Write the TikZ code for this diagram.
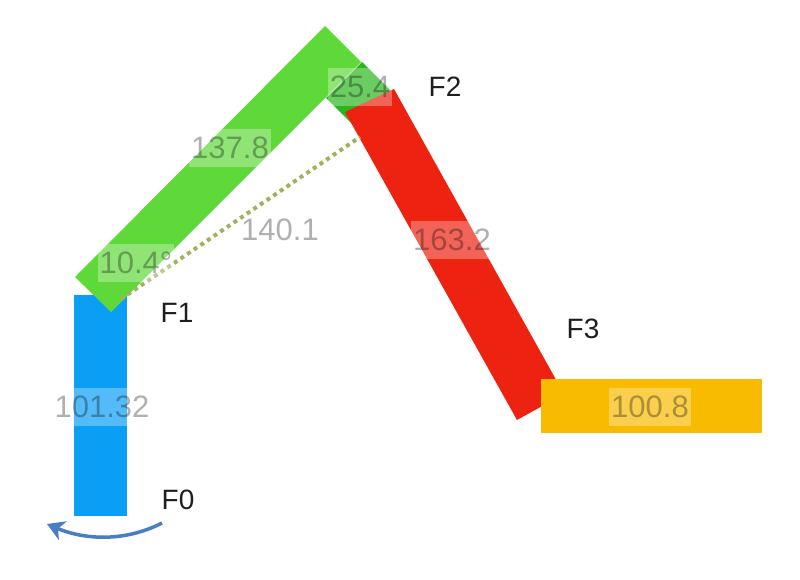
\documentclass[tikz,border=0pt]{standalone}
\usepackage{fontspec}
\setmainfont{Liberation Sans}
\usetikzlibrary{arrows.meta}
\definecolor{cblue}{RGB}{10,158,245}
\definecolor{cgreen}{RGB}{95,217,58}
\definecolor{cdgreen}{RGB}{44,182,30}
\definecolor{cred}{RGB}{238,34,17}
\definecolor{cyellow}{RGB}{248,187,0}
\definecolor{cdot}{RGB}{158,180,92}
\definecolor{carrow}{RGB}{74,126,194}
\definecolor{ctxt}{RGB}{30,30,30}
\tikzset{
  val/.style={fill=white, fill opacity=0.3, text=black, text opacity=0.31,
    font=\fontsize{31}{34}\selectfont, inner xsep=2pt, inner ysep=0pt, minimum height=38pt},
  frame/.style={text=ctxt, font=\fontsize{28}{32}\selectfont, inner sep=0pt},
  dotline/.style={cdot, line width=4pt, dash pattern=on 4pt off 4pt},
  rot/.style={carrow, line width=3.5pt, -{Stealth[length=17pt,width=20pt,inset=5pt]}}
}
\begin{document}
\begin{tikzpicture}[x=1pt,y=-1pt]
\useasboundingbox (0,0) rectangle (800,579);
% bars
\fill[cblue] (74,295) rectangle (127,516);
\fill[cgreen] (75,277) -- (325,26) -- (361,62) -- (111,312) -- cycle;
\fill[cdgreen] (326,98) -- (362,62) -- (400,100) -- (364,136) -- cycle;
\fill[cred] (345,112) -- (394,89) -- (564,394) -- (517,420) -- cycle;
\fill[cyellow] (541,379) rectangle (762,433);
% frames
\coordinate (F1p) at (121,299);
\coordinate (F2p) at (360,137);
\draw[dotline] (F1p) -- (F2p);
\coordinate (a0) at (162,523);
\coordinate (a1) at (47,524);
\draw[rot] (a0) .. controls (125,542) and (85,540) .. (a1);
% value labels
\node[val] (l1) at (102,407) {101.32};
\node[val] (l2) at (230,148) {137.8};
\node[val] (l3) at (136,263) {10.4°};
\node[val, fill opacity=0] (l4) at (280,230) {140.1};
\node[val] (l5) at (360,87) {25.4};
\node[val] (l6) at (452,240) {163.2};
\node[val] (l7) at (650,407) {100.8};
% frame names
\node[frame] (n0) at (178,500) {F0};
\node[frame] (n1) at (177,313) {F1};
\node[frame] (n2) at (445,87) {F2};
\node[frame] (n3) at (583,329) {F3};
\end{tikzpicture}
\end{document}
